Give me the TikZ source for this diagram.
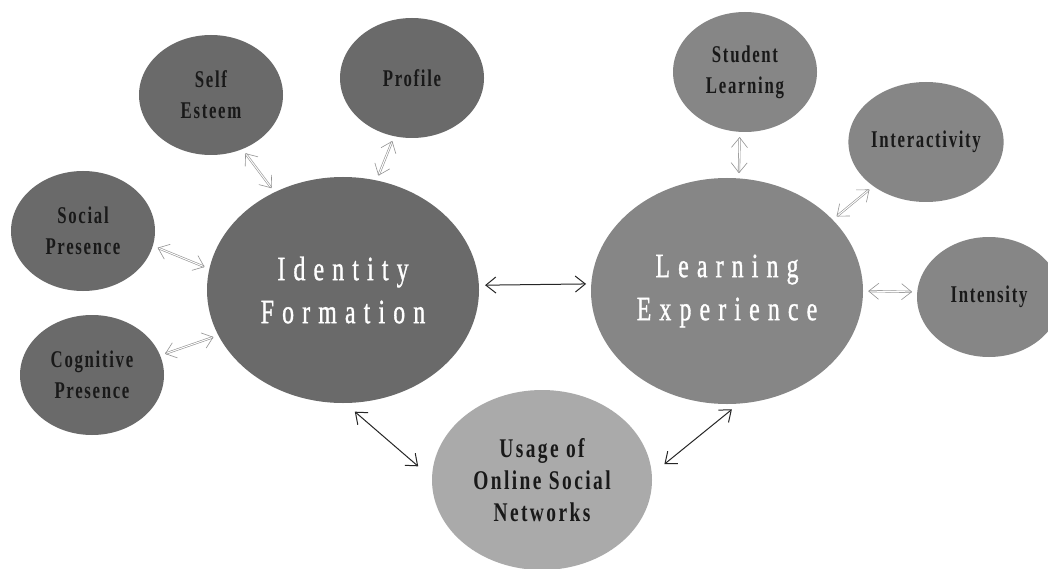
\documentclass[tikz,border=0pt]{standalone}
\usepackage{fontspec}
\usepackage{tikz}
\usetikzlibrary{arrows.meta,shapes}
\setmainfont{Liberation Serif}
\newfontfamily\smallfont[FakeStretch=0.7,LetterSpace=7]{Liberation Serif}
\newfontfamily\usagefont[FakeStretch=0.72,LetterSpace=9]{Liberation Serif}
\newfontfamily\bigfont[FakeStretch=0.7,LetterSpace=24,FakeBold=1]{Liberation Serif}
\definecolor{darkgrey}{HTML}{6A6A6A}
\definecolor{midgrey}{HTML}{868686}
\definecolor{lightgrey}{HTML}{AAAAAA}
\tikzset{
  bubble/.style={ellipse, inner sep=0pt, minimum width=144pt, minimum height=120pt,
    align=center, text=black!90, font=\smallfont\bfseries\fontsize{24}{31}\selectfont},
  core/.style={ellipse, inner sep=0pt, minimum width=272pt, minimum height=226pt,
    align=center, text=white, font=\bigfont\fontsize{34}{43}\selectfont},
  link/.style={{Straight Barb[length=10pt,width=16pt]}-{Straight Barb[length=10pt,width=16pt]},
    line width=1pt, black!85},
  sublink/.style={{Straight Barb[length=10pt,width=16pt]}-{Straight Barb[length=10pt,width=16pt]},
    draw=gray!85, double=white, double distance=1pt, line width=0.6pt,
    shorten <=5pt, shorten >=5pt}
}
\begin{document}
\begin{tikzpicture}[x=1pt,y=-1pt]
    \clip (0,0) rectangle (1048,569);
    \fill[white] (0,0) rectangle (1048,569);
    \node[core, fill=darkgrey] (identity) at (343,290) {Identity\\Formation};
    \node[core, fill=midgrey] (learning) at (727,291) {Learning\\Experience};
    \node[ellipse, inner sep=0pt, minimum width=220pt, minimum height=180pt, fill=lightgrey,
      align=center, text=black!90, font=\usagefont\bfseries\fontsize{27}{32}\selectfont]
      (usage) at (542,480) {Usage of\\Online Social\\Networks};
    \node[bubble, fill=darkgrey] (esteem) at (211,95) {Self\\Esteem};
    \node[bubble, fill=darkgrey] (profile) at (412,78) {Profile};
    \node[bubble, fill=darkgrey] (social) at (83,231) {Social\\Presence};
    \node[bubble, fill=darkgrey] (cognitive) at (92,375) {Cognitive\\Presence};
    \node[bubble, fill=midgrey] (student) at (745,72) {Student\\Learning};
    \node[bubble, fill=midgrey] (interact) at (926,142) {Interactivity};
    \node[bubble, fill=midgrey] (intensity) at (989,297) {Intensity};

    \draw[link, shorten <=6pt, shorten >=5pt] (identity.2) -- (learning.177);
    \draw[link, shorten <=13pt, shorten >=18pt] (identity.-89) -- (usage.179);
    \draw[link, shorten <=9pt, shorten >=16pt] (learning.-84) -- (usage.3);

    \draw[sublink] (esteem.-60) -- (identity.125);
    \draw[sublink] (profile.253) -- (identity.73);
    \draw[sublink] (social.-12) -- (identity.171);
    \draw[sublink] (cognitive.16) -- (identity.200);
    \draw[sublink] (student.-95) -- (learning.84);
    \draw[sublink] (interact.220) -- (learning.34);
    \draw[sublink] (learning.0) -- (intensity.176);
\end{tikzpicture}
\end{document}
